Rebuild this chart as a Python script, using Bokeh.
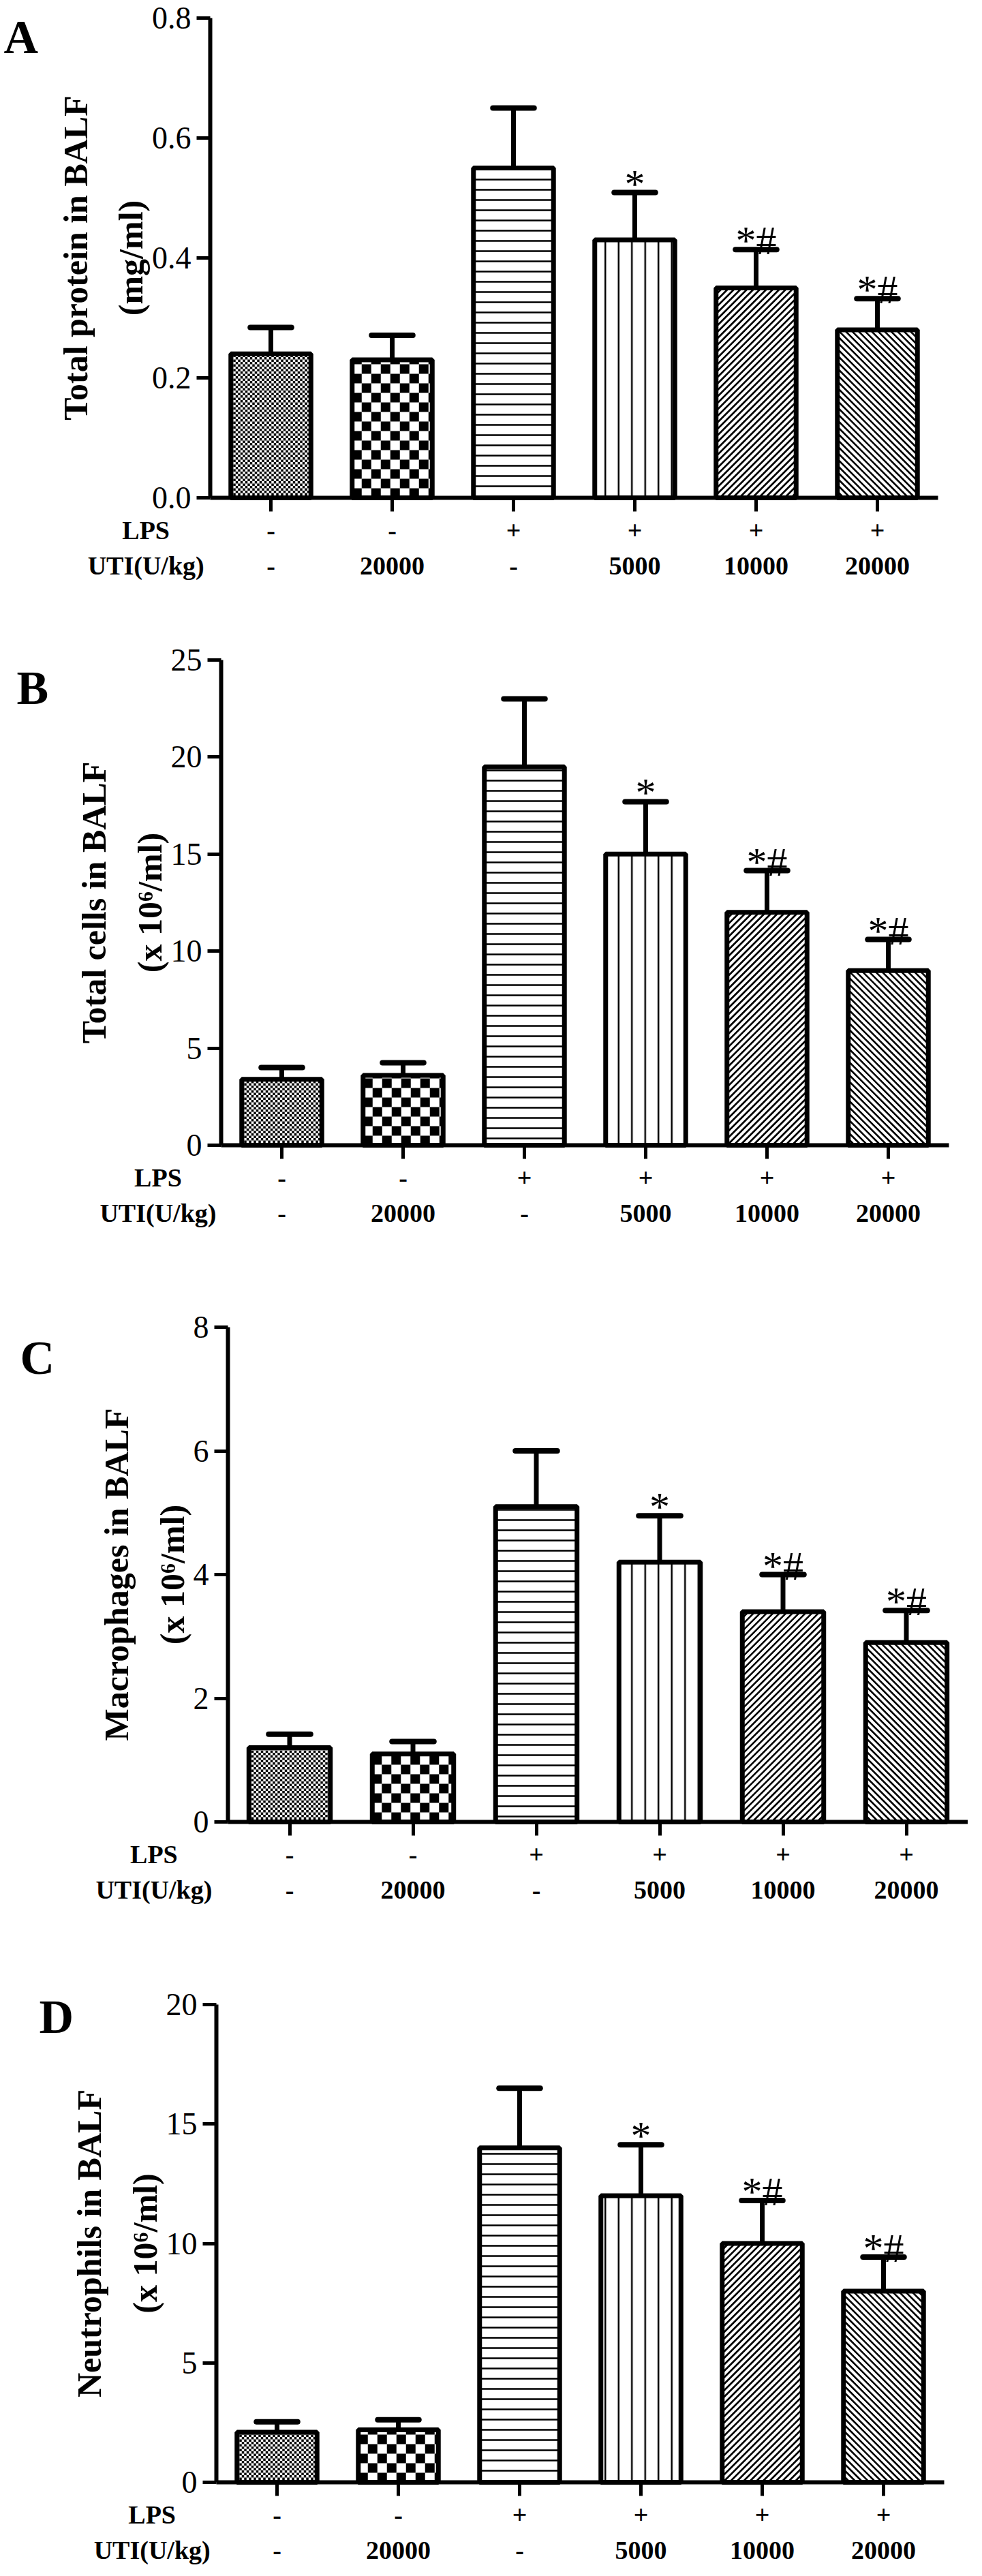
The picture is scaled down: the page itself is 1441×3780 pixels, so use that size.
import math

from bokeh.core.properties import value
from bokeh.embed import file_html
from bokeh.layouts import column
from bokeh.models import ColumnDataSource, FixedTicker
from bokeh.plotting import figure
from bokeh.resources import INLINE

# groups along the x axis
lps = ["-", "-", "+", "+", "+", "+"]
uti = ["-", "20000", "-", "5000", "10000", "20000"]
marks = ["", "", "", "*", "*#", "*#"]
row_header = "LPS\nUTI(U/kg)"

# A: total protein in BALF (mg/ml)
protein_mean = [0.24, 0.23, 0.55, 0.43, 0.35, 0.28]
protein_sd = [0.044, 0.041, 0.10, 0.079, 0.064, 0.052]
protein_ticks = [0, 0.2, 0.4, 0.6, 0.8]
protein_tick_labels = ["0.0", "0.2", "0.4", "0.6", "0.8"]

# B: total cells in BALF (x 10^6/ml)
cells_mean = [3.4, 3.6, 19.5, 15.0, 12.0, 9.0]
cells_sd = [0.6, 0.65, 3.5, 2.7, 2.15, 1.6]
cells_ticks = [0, 5, 10, 15, 20, 25]
cells_tick_labels = ["0", "5", "10", "15", "20", "25"]

# C: macrophages in BALF (x 10^6/ml)
macro_mean = [1.2, 1.1, 5.1, 4.2, 3.4, 2.9]
macro_sd = [0.22, 0.2, 0.9, 0.75, 0.6, 0.52]
macro_ticks = [0, 2, 4, 6, 8]
macro_tick_labels = ["0", "2", "4", "6", "8"]

# D: neutrophils in BALF (x 10^6/ml)
neutro_mean = [2.1, 2.2, 14.0, 12.0, 10.0, 8.0]
neutro_sd = [0.43, 0.42, 2.5, 2.13, 1.8, 1.43]
neutro_ticks = [0, 5, 10, 15, 20]
neutro_tick_labels = ["0", "5", "10", "15", "20"]

FONT = "Liberation Serif"
W = 1420          # canvas width of every panel
PAGE_X = 8        # page margin
BAR_W = 0.66

# fill style per bar and its pitch in px
fill_kind = ["checker", "checker", "horizontal_line", "vertical_line", "/", "\\"]
fill_px = [3.5, 14, 15, 19.5, 9.5, 9.5]


def checker_quads(xs, mean, px_x, px_y):
    """black cells of a checkerboard filling the inside of a bar"""
    L, R, B, T = [], [], [], []
    for xc, m, kind, cpx in zip(xs, mean, fill_kind, fill_px):
        if kind != "checker":
            continue
        cx = cpx * px_x
        cy = cpx * px_y
        x0 = xc - BAR_W / 2
        x1 = xc + BAR_W / 2
        ncol = math.ceil((x1 - x0) / cx)
        nrow = math.ceil(m / cy)
        for r in range(nrow):
            for c in range(ncol):
                if (r + c) % 2:
                    continue
                L.append(x0 + c * cx)
                R.append(min(x0 + (c + 1) * cx, x1))
                B.append(r * cy)
                T.append(min((r + 1) * cy, m))
    return dict(left=L, right=R, bottom=B, top=T)


def diagonal_segments(xs, mean, px_x, px_y):
    """45 degree stripes clipped to the inside of a bar"""
    X0, Y0, X1, Y1 = [], [], [], []
    for xc, m, kind, d in zip(xs, mean, fill_kind, fill_px):
        if kind not in ("/", "\\"):
            continue
        w = BAR_W / px_x
        h = m / px_y
        left = xc - BAR_W / 2
        c = -h if kind == "/" else 0.0
        c_end = w if kind == "/" else w + h
        while c <= c_end:
            if kind == "/":
                a, b = max(0.0, c), min(w, h + c)
                ya, yb = a - c, b - c
            else:
                a, b = max(0.0, c - h), min(w, c)
                ya, yb = c - a, c - b
            if b > a:
                X0.append(left + a * px_x)
                Y0.append(ya * px_y)
                X1.append(left + b * px_x)
                Y1.append(yb * px_y)
            c += d
    return dict(x0=X0, y0=Y0, x1=X1, y1=Y1)


def panel(letter, ylabel, mean, sd, ticks, tick_labels,
          canvas_top, height, axis_x, spacing, ymax_y, zero_y,
          letter_dx, letter_dy, head_x):
    n = len(mean)
    ymax = ticks[-1]
    # map page pixels to data so that the whole canvas is the plot frame
    ppu = (zero_y - ymax_y) / ymax
    x_start = -0.5 - (axis_x - PAGE_X) / spacing
    x_end = x_start + W / spacing
    y_end = ymax + (ymax_y - canvas_top) / ppu
    y_start = y_end - height / ppu

    xs = list(range(n))
    src = ColumnDataSource(dict(
        x=xs,
        mean=mean,
        top=[m + s for m, s in zip(mean, sd)],
        cap0=[i - 0.17 for i in xs],
        cap1=[i + 0.17 for i in xs],
        mark=marks,
    ))

    p = figure(width=W, height=height, x_range=(x_start, x_end),
               y_range=(y_start, y_end), output_backend="svg",
               toolbar_location=None, tools="", title=None,
               min_border=0)
    p.outline_line_color = None
    p.xgrid.visible = False
    p.ygrid.visible = False
    p.background_fill_color = "white"

    # error bars (upper half only) with rounded caps
    p.segment(x0="x", y0="mean", x1="x", y1="top", source=src,
              line_color="black", line_width=7)
    p.segment(x0="cap0", y0="top", x1="cap1", y1="top", source=src,
              line_color="black", line_width=8, line_cap="round")

    # bar fills
    for i in range(n):
        hatch = fill_kind[i] if fill_kind[i].endswith("_line") else None
        p.vbar(x=[xs[i]], top=[mean[i]], width=BAR_W, fill_color="white",
               line_color=None, hatch_pattern=hatch,
               hatch_scale=fill_px[i], hatch_weight=2.5, hatch_color="black")
    p.quad(left="left", right="right", bottom="bottom", top="top",
           source=ColumnDataSource(checker_quads(xs, mean, 1 / spacing, 1 / ppu)),
           fill_color="black", line_color=None)
    p.segment(x0="x0", y0="y0", x1="x1", y1="y1",
              source=ColumnDataSource(diagonal_segments(xs, mean, 1 / spacing, 1 / ppu)),
              line_color="black", line_width=2.6)
    # bar outlines
    p.vbar(x="x", top="mean", width=BAR_W, source=src, fill_color=None,
           line_color="black", line_width=7)

    # significance marks
    p.text(x="x", y="top", text="mark", source=src,
           text_font=value(FONT), text_font_size="60px", text_color="black",
           text_align="center", text_baseline="alphabetic", y_offset=-13)

    # axes, pinned at the data origin
    for ax in (p.xaxis[0], p.yaxis[0]):
        ax.axis_line_width = 6
        ax.axis_line_color = "black"
        ax.major_tick_line_width = 5
        ax.major_tick_line_color = "black"
        ax.major_tick_out = 20
        ax.major_tick_in = 0
        ax.minor_tick_line_color = None

    p.yaxis.fixed_location = -0.5
    p.yaxis.bounds = (0, ymax)
    p.yaxis.ticker = FixedTicker(ticks=ticks)
    p.yaxis.major_label_overrides = dict(zip(ticks, tick_labels))
    p.yaxis.major_label_text_font = FONT
    p.yaxis.major_label_text_font_size = "46px"
    p.yaxis.major_label_text_color = "black"
    p.yaxis.major_label_standoff = 8
    p.yaxis.axis_label = ylabel
    p.yaxis.axis_label_text_font = FONT
    p.yaxis.axis_label_text_font_style = "bold"
    p.yaxis.axis_label_text_font_size = "50px"
    p.yaxis.axis_label_text_color = "black"
    p.yaxis.axis_label_text_line_height = 1.45
    p.yaxis.axis_label_standoff = 0

    p.xaxis.fixed_location = 0
    p.xaxis.bounds = (-0.5, n - 0.5)
    p.xaxis.ticker = FixedTicker(ticks=xs)
    p.xaxis.major_label_overrides = {i: f"{a}\n{b}" for i, a, b in zip(xs, lps, uti)}
    p.xaxis.major_label_text_font = FONT
    p.xaxis.major_label_text_font_style = "bold"
    p.xaxis.major_label_text_font_size = "38px"
    p.xaxis.major_label_text_color = "black"
    p.xaxis.major_label_text_line_height = 1.24
    p.xaxis.major_label_standoff = 6

    # row headers of the group table
    p.text(x=[head_x], y=[0], text=[row_header], text_font=value(FONT),
           text_font_style="bold", text_font_size="38px", text_color="black",
           text_align="center", text_baseline="top", text_line_height=1.24,
           y_offset=26)
    # panel letter
    p.text(x=[-0.5], y=[ymax], text=[letter], text_font=value(FONT),
           text_font_style="bold", text_font_size="70px", text_color="black",
           text_align="left", text_baseline="alphabetic",
           x_offset=letter_dx, y_offset=letter_dy)
    return p


pa = panel("A", "Total protein in BALF\n(mg/ml)", protein_mean, protein_sd,
           protein_ticks, protein_tick_labels,
           8, 942, 316, 178, 34, 738, -303, 28, -1.03)
pb = panel("B", "Total cells in BALF\n(x 10\u2076/ml)", cells_mean, cells_sd,
           cells_ticks, cells_tick_labels,
           950, 950, 332, 178, 976, 1688, -300, 41, -1.02)
pc = panel("C", "Macrophages in BALF\n(x 10\u2076/ml)", macro_mean, macro_sd,
           macro_ticks, macro_tick_labels,
           1900, 930, 342, 181, 1955, 2681, -305, 45, -1.1)
pd_ = panel("D", "Neutrophils in BALF\n(x 10\u2076/ml)", neutro_mean, neutro_sd,
            neutro_ticks, neutro_tick_labels,
            2830, 942, 325, 178, 2949, 3650, -260, 18, -1.03)

layout = column(pa, pb, pc, pd_)
open("out.html", "w").write(file_html(layout, INLINE))
